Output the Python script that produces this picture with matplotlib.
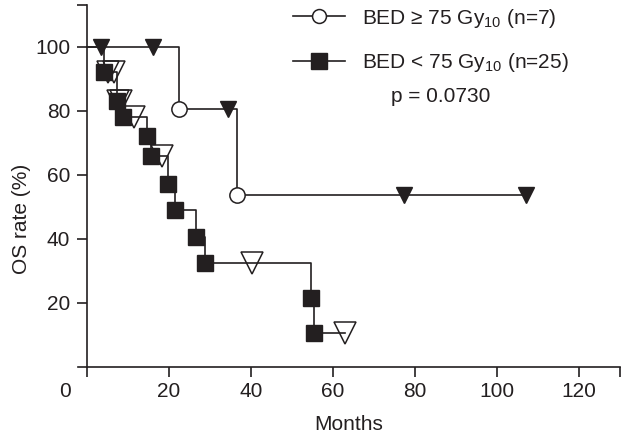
import numpy as np
import matplotlib
matplotlib.use('Agg')
import matplotlib.pyplot as plt
from matplotlib.lines import Line2D
from matplotlib.transforms import ScaledTranslation

plt.rcParams['font.family'] = ['Liberation Sans', 'DejaVu Sans']
plt.rcParams['mathtext.fontset'] = 'custom'
plt.rcParams['mathtext.rm'] = 'Liberation Sans'
plt.rcParams['mathtext.it'] = 'Liberation Sans'

INK = '#231f20'
FS = 15

# BED >= 75 Gy10 (n=7): drop times / survival after drop, censored times
hi_event_t = [22.4, 36.6]
hi_event_s = [80.5, 53.8]
hi_censor_t = [3.4, 16.1, 34.4, 77.2, 107.1]

# BED < 75 Gy10 (n=25)
lo_event_t = [4.2, 7.2, 8.8, 14.6, 15.6, 19.8, 21.5, 26.6, 28.8, 54.6, 55.3]
lo_event_s = [92.0, 83.0, 78.0, 72.0, 66.0, 57.0, 49.0, 40.5, 32.5, 21.5, 10.5]
lo_censor_t = [5.0, 6.5, 7.5, 8.3, 11.5, 18.3, 40.2, 63.0]

legend_labels = [r'BED ≥ 75 Gy$_{10}$ (n=7)', r'BED < 75 Gy$_{10}$ (n=25)']
p_text = 'p = 0.0730'
x_ticks = [0, 20, 40, 60, 80, 100, 120, 130]
x_labels = ['0', '20', '40', '60', '80', '100', '120', '']
y_ticks = [20, 40, 60, 80, 100, 113]
y_labels = ['20', '40', '60', '80', '100', '']


def level_at(times, surv, t):
    idx = np.searchsorted(times, t, side='right')
    return 100.0 if idx == 0 else surv[idx - 1]


def draw_curve(ax, ev_t, ev_s, cen_t, ev_marker, ev_kw, cen_kw):
    end = max(max(ev_t), max(cen_t))
    xs = [0] + list(ev_t) + [end]
    ys = [100] + list(ev_s) + [ev_s[-1]]
    ax.step(xs, ys, where='post', color=INK, lw=1.2, zorder=2)
    cen_s = [level_at(ev_t, ev_s, c) for c in cen_t]
    ax.plot(cen_t, cen_s, ls='none', zorder=3, **cen_kw)
    ax.plot(ev_t, ev_s, ls='none', marker=ev_marker, zorder=4, **ev_kw)


fig = plt.figure(figsize=(6.23, 4.38), dpi=100)
ax = fig.add_axes([0.1252, 0.1621, 0.870, 0.8265])

draw_curve(ax, lo_event_t, lo_event_s, lo_censor_t, 's',
           dict(ms=12, mfc=INK, mec=INK),
           dict(marker='v', ms=16.5, mfc='none', mec=INK, mew=1.1))
draw_curve(ax, hi_event_t, hi_event_s, hi_censor_t, 'o',
           dict(ms=11, mfc='white', mec=INK, mew=1.1),
           dict(marker='v', ms=12, mfc=INK, mec=INK))

ax.set_xlim(-2.2, 130)
ax.set_ylim(0, 113)
ax.spines['top'].set_visible(False)
ax.spines['right'].set_visible(False)
ax.spines['left'].set_position(('data', 0))
for s in ('left', 'bottom'):
    ax.spines[s].set_color(INK)
    ax.spines[s].set_linewidth(1.2)

ax.set_xticks(x_ticks)
ax.set_xticklabels(x_labels)
ax.set_yticks(y_ticks)
ax.set_yticklabels(y_labels)
ax.tick_params(direction='out', length=7, width=1.2, color=INK,
               labelsize=FS, labelcolor=INK, pad=5)
ax.tick_params(axis='x', pad=4)
# the "0" sits left of its tick
lab0 = ax.get_xticklabels()[0]
lab0.set_transform(lab0.get_transform() + ScaledTranslation(-0.22, 0, fig.dpi_scale_trans))

ax.set_xlabel('Months', fontsize=FS, color=INK, labelpad=10)
ax.yaxis.set_label_coords(31 / 623, 0.5, transform=fig.transFigure)
ax.set_ylabel('OS rate (%)', fontsize=FS, color=INK)

handles = [
    Line2D([], [], color=INK, lw=1.2, marker='o', ms=10, mfc='white', mec=INK, mew=1.1),
    Line2D([], [], color=INK, lw=1.2, marker='s', ms=12, mfc=INK, mec=INK),
]
ax.legend(handles, legend_labels, loc='upper left', bbox_to_anchor=(0.47, 0.985),
          bbox_transform=fig.transFigure, frameon=False, fontsize=FS,
          handlelength=2.5, handletextpad=0.8, labelspacing=1.05, borderpad=0,
          borderaxespad=0, labelcolor=INK)
fig.text(441 / 623, 1 - 96 / 438, p_text, ha='center', va='center',
         fontsize=FS, color=INK)

fig.savefig('out.png', dpi=100)
